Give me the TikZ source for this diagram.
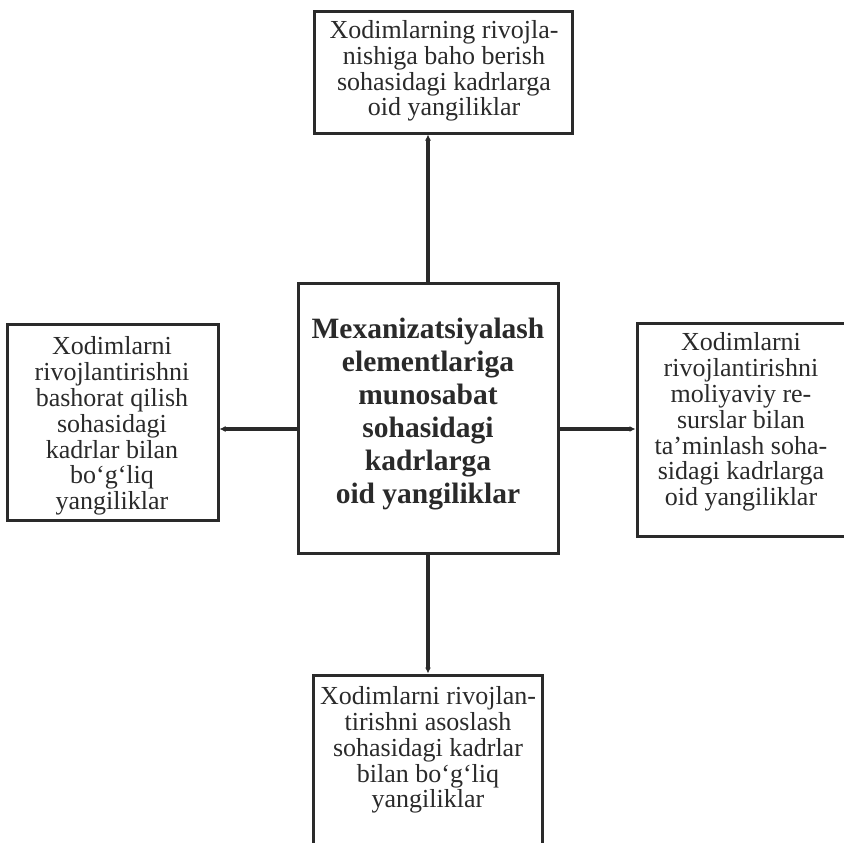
\documentclass[tikz,border=0pt]{standalone}
\usepackage{fontspec}
\setmainfont{Liberation Serif}
\usetikzlibrary{arrows.meta}
\definecolor{ink}{HTML}{2A2A2A}
\begin{document}
\begin{tikzpicture}[x=1pt,y=-1pt,
  boxstyle/.style={draw=ink,line width=3pt,inner sep=0pt,minimum width=#1},
  txt/.style={text=ink,align=center,inner sep=0pt,font=\fontsize{26}{25.8}\selectfont},
  btxt/.style={text=ink,align=center,inner sep=0pt,font=\fontsize{29.5}{33}\selectfont\bfseries},
  conn/.style={draw=ink,line width=3.2pt,-{Latex[length=6pt,width=6pt]}}]
\useasboundingbox (0,0) rectangle (844,843);
% boxes
\node[boxstyle=258pt,minimum height=121pt] (T) at (443,72.5) {};
\node[boxstyle=260pt,minimum height=270pt] (C) at (428,418) {};
\node[boxstyle=211pt,minimum height=196pt] (L) at (112.5,422) {};
\node[boxstyle=208pt,minimum height=213pt] (R) at (741,429.5) {};
\node[boxstyle=229pt,minimum height=173pt] (B) at (427.5,761.5) {};
% texts
\node[txt] (Tt) at (444,71) {Xodimlarning rivojla-\\nishiga baho berish\\sohasidagi kadrlarga\\oid yangiliklar};
\node[btxt] (Ct) at (428,414) {Mexanizatsiyalash\\elementlariga\\munosabat\\sohasidagi\\kadrlarga\\oid yangiliklar};
\node[txt] (Lt) at (112,426) {Xodimlarni\\rivojlantirishni\\bashorat qilish\\sohasidagi\\kadrlar bilan\\bo‘g‘liq\\yangiliklar};
\node[txt] (Rt) at (741,422) {Xodimlarni\\rivojlantirishni\\moliyaviy re-\\surslar bilan\\ta’minlash soha-\\sidagi kadrlarga\\oid yangiliklar};
\node[txt] (Bt) at (428,750) {Xodimlarni rivojlan-\\tirishni asoslash\\sohasidagi kadrlar\\bilan bo‘g‘liq\\yangiliklar};
% connector levels
\coordinate (vx) at (428,0);
\coordinate (hy) at (0,429);
% connectors
\draw[conn] (C.north -| vx) -- (T.south -| vx);
\draw[conn] (C.south -| vx) -- (B.north -| vx);
\draw[conn] (C.west |- hy) -- (L.east |- hy);
\draw[conn] (C.east |- hy) -- (R.west |- hy);
\end{tikzpicture}
\end{document}
